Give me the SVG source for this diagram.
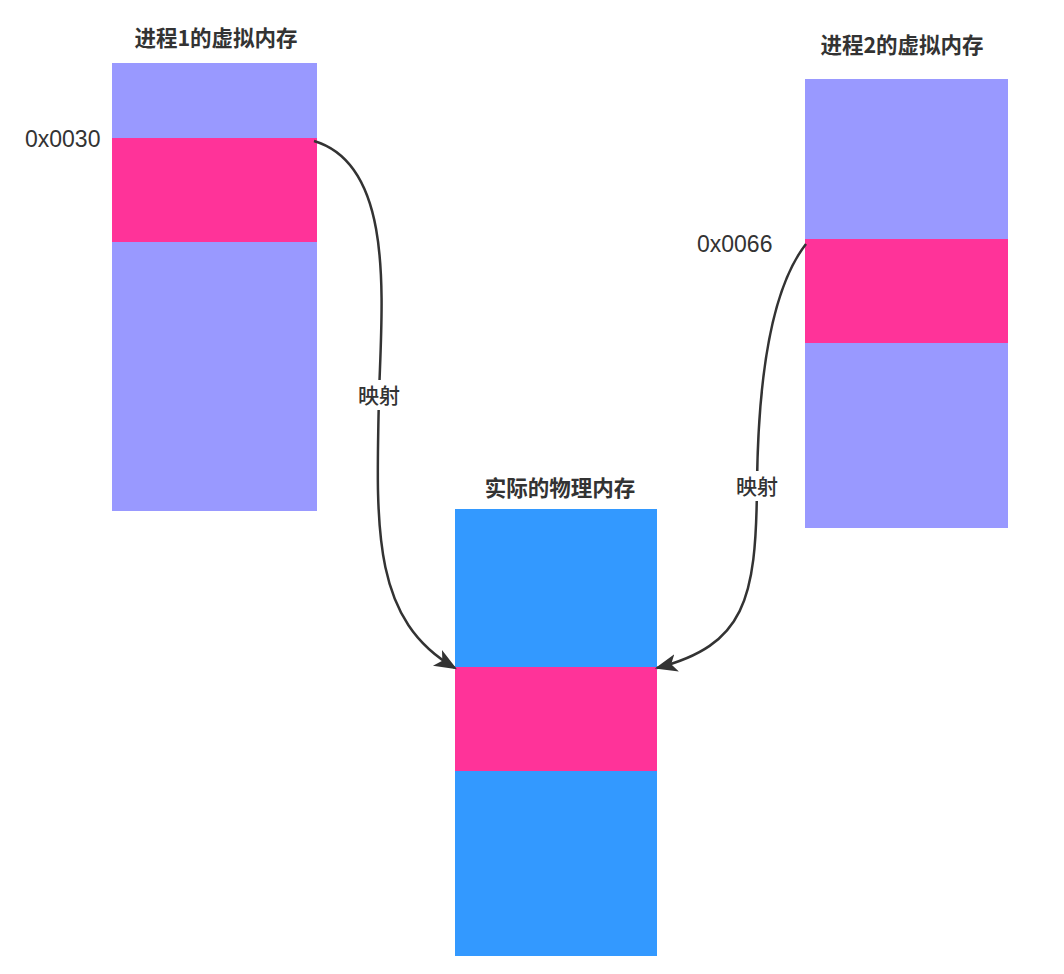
<svg xmlns="http://www.w3.org/2000/svg" width="1064" height="974" viewBox="0 0 1064 974">
<defs>
<style>
.title{font-family:"Noto Sans CJK SC","Liberation Sans",sans-serif;font-size:21.5px;font-weight:bold;fill:#333;text-anchor:middle}
.addr{font-family:"Liberation Sans","Noto Sans",sans-serif;font-size:23px;fill:#333}
.lbl{font-family:"Noto Sans CJK SC",sans-serif;font-size:21px;font-weight:500;fill:#333;text-anchor:middle}
.virt{fill:#9999ff}
.phys{fill:#3399ff}
.seg{fill:#ff3399}
.edge{fill:none;stroke:#333;stroke-width:2.5}
</style>
<marker id="arr" viewBox="0 0 10 10" refX="9" refY="5" markerWidth="9" markerHeight="9" orient="auto" markerUnits="strokeWidth">
<path d="M0,1 L10,5 L0,9 L2.5,5 Z" fill="#333"/>
</marker>
</defs>
<rect width="1064" height="974" fill="#fff"/>
<g id="proc1">
<text class="title" x="216" y="46">进程1的虚拟内存</text>
<rect class="virt" x="112" y="63" width="205" height="448"/>
<rect class="seg" x="112" y="138" width="205" height="104"/>
<text class="addr" x="25" y="147">0x0030</text>
</g>
<g id="proc2">
<text class="title" x="902" y="53">进程2的虚拟内存</text>
<rect class="virt" x="805" y="79" width="203" height="449"/>
<rect class="seg" x="805" y="239" width="203" height="104"/>
<text class="addr" x="697" y="252">0x0066</text>
</g>
<g id="phys">
<text class="title" x="560" y="496">实际的物理内存</text>
<rect class="phys" x="455" y="509" width="202" height="447"/>
<rect class="seg" x="455" y="667" width="202" height="104"/>
</g>
<g id="connectors">
<path class="edge" d="M314,141 C395,165 382,300 379,395 C376,530 372,620 455,668" marker-end="url(#arr)"/>
<path class="edge" d="M806,244 C770,290 758,380 757,486 C756,600 745,645 657,668" marker-end="url(#arr)"/>
<rect x="355" y="380" width="48" height="30" fill="#fff"/>
<text class="lbl" x="379" y="403">映射</text>
<rect x="733" y="471" width="48" height="30" fill="#fff"/>
<text class="lbl" x="757" y="494">映射</text>
</g>
</svg>
